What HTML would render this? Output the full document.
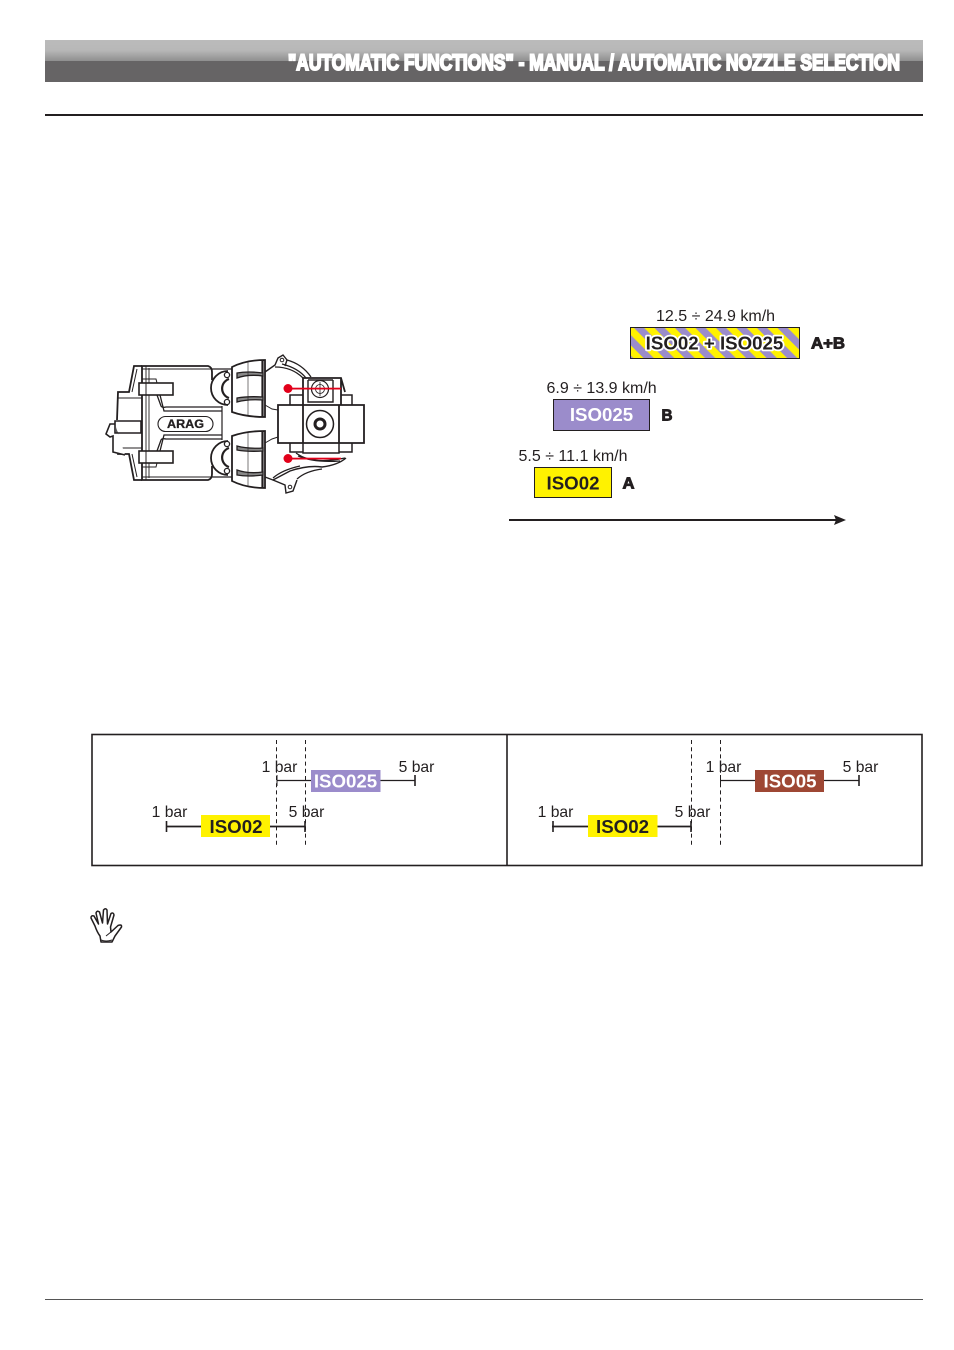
<!DOCTYPE html>
<html>
<head>
<meta charset="utf-8">
<style>
html,body{margin:0;padding:0;background:#fff;}
svg{display:block;}
text{font-family:"Liberation Sans",sans-serif;}
</style>
</head>
<body>
<svg width="954" height="1350" viewBox="0 0 954 1350" xmlns="http://www.w3.org/2000/svg">
<defs>
<linearGradient id="hdr" x1="0" y1="0" x2="0" y2="1">
<stop offset="0" stop-color="#bbbbbb"/>
<stop offset="0.24" stop-color="#b8b8b8"/>
<stop offset="0.5" stop-color="#8f8f8f"/>
<stop offset="0.5" stop-color="#666465"/>
<stop offset="1" stop-color="#666465"/>
</linearGradient>
<pattern id="st" width="14.5" height="14.5" patternUnits="userSpaceOnUse" patternTransform="translate(633 327) rotate(-45)">
<rect width="14.5" height="14.5" fill="#fff200"/>
<rect width="7.25" height="14.5" fill="#9b8ccb"/>
</pattern>
<g id="nut" fill="none" stroke="#231f20">
<path d="M232 367Q246 360 265 360V417Q246 417 232 412Z" fill="#fff" stroke-width="1.8"/>
<path d="M262.500 360V417" stroke-width="2.200"/>
<path d="M237 373Q248 371 263 373V376Q248 374 237 378Z" stroke-width="1.300" fill="#888"/>
<path d="M237 398Q248 396 263 397V400Q248 399 237 402Z" stroke-width="1.300" fill="#888"/>
<path d="M248 361V416" stroke-width=".6"/>
</g>
<g id="half" fill="none" stroke="#231f20">
<path d="M142 423V366H208Q212 367 212 372V380" stroke-width="1.800"/>
<path d="M212 369H232" stroke-width="1.200"/>
<path d="M142 366H134L129 392H118L117 420" stroke-width="1.800"/>
<path d="M137 369L132 392M118 398H142" stroke-width="1"/>
<path d="M146 366V423M149 368V423M142 369H212" stroke-width=".9"/>
<rect x="139" y="383" width="34" height="12" fill="#fff" stroke-width="1.600"/>
<path d="M142 379H156L157 383M146 383V395" stroke-width="1"/>
<path d="M157 395L161 406Q162 408 166 407H222M160 395L164 411H222" stroke-width="1.300"/>
<path d="M222 406V423" stroke-width="1.200"/>
<path d="M228 371A17 17 0 0 0 228 405" stroke-width="1.800"/>
<path d="M229 379A10 10 0 0 0 229 398" stroke-width="2.200"/>
<circle cx="227" cy="375" r="2.600" fill="#fff" stroke-width="1.300"/>
<circle cx="227" cy="402" r="2.600" fill="#fff" stroke-width="1.300"/>
</g>
</defs>

<rect x="0" y="0" width="954" height="1350" fill="#fff"/>

<!-- header -->
<rect x="45" y="40" width="878" height="42" fill="url(#hdr)"/>
<text x="288" y="70" font-size="22.500" font-weight="bold" fill="#fff" stroke="#fff" stroke-width="2" textLength="612" lengthAdjust="spacingAndGlyphs">"AUTOMATIC FUNCTIONS" - MANUAL / AUTOMATIC NOZZLE SELECTION</text>
<rect x="45" y="114" width="878" height="2" fill="#231f20"/>
<rect x="45" y="1299" width="878" height="1" fill="#555"/>

<!-- device -->
<use href="#half"/>
<use href="#half" transform="translate(0 846) scale(1 -1)"/>
<use href="#nut"/>
<use href="#nut" transform="translate(0 848) scale(1 -1)"/>
<g fill="none" stroke="#231f20">
<path d="M115 421H141V433H115ZM115 424H110L106 434L110 437L113 436V452L125 455" stroke-width="1.600" fill="#fff"/>
<!-- upper right arm -->
<path d="M265 372L275 365L278 358L283 355L287 360L285 366" stroke-width="1.400"/>
<path d="M287 360Q302 364 311 377M275 367Q292 367 303 378M282 364Q298 368 306 378" stroke-width="1.300"/>
<circle cx="282" cy="360" r="1.800" stroke-width="1"/>
<path d="M265 405L272 409L278 410M265 443L272 439L278 437" stroke-width="1"/>
<!-- upper column + bolt -->
<path d="M303 405V378H341L345 392M341 378V405" stroke-width="1.800"/>
<path d="M308 380V402H333V380M308 380H333" stroke-width="1.400"/>
<circle cx="320" cy="389" r="8.500" stroke-width="1.200"/>
<circle cx="320" cy="389" r="4.500" stroke-width=".8"/>
<path d="M320 382V396M314 389H326" stroke-width=".8"/>
<path d="M290 405V395H303M341 395H352V405" stroke-width="1.500"/>
<!-- block -->
<path d="M278 405H364V443H278Z" fill="#fff" stroke-width="1.800"/>
<path d="M303 405V443M339 405V443" stroke-width="1.800"/>
<circle cx="320" cy="424" r="13.500" stroke-width="1.500" fill="#fff"/>
<circle cx="320" cy="424" r="5" stroke-width="3"/>
<!-- lower column -->
<path d="M290 443V452H303M303 443V453H339V443M339 452H352V443" stroke-width="1.500"/>
<path d="M296 453Q312 465 345 458M298 456Q314 463 340 461" stroke-width="1.200"/>
<!-- lower arm -->
<path d="M265 477L273 480L290 471Q308 465 322 467Q338 465 346 458" stroke-width="1.400"/>
<path d="M273 478Q282 470 300 466M297 479Q306 471 322 469" stroke-width="1.200"/>
<path d="M273 480L285 485L286 493L293 491L297 480" stroke-width="1.400"/>
<circle cx="290" cy="487" r="1.800" stroke-width="1"/>
<rect x="158" y="416.500" width="55" height="15" rx="7.500" stroke-width="1.100" fill="#fff"/>
</g>
<text x="185.500" y="428" font-size="12" font-weight="bold" fill="#231f20" stroke="#231f20" stroke-width=".3" text-anchor="middle" textLength="37" lengthAdjust="spacingAndGlyphs">ARAG</text>
<circle cx="288" cy="388.500" r="4.500" fill="#e2001a"/>
<rect x="288" y="387.700" width="53" height="1.800" fill="#e2001a"/>
<circle cx="288" cy="458.500" r="4.500" fill="#e2001a"/>
<rect x="288" y="457.700" width="53" height="1.800" fill="#e2001a"/>

<!-- speed chart -->
<g font-size="16" fill="#231f20">
<text x="656" y="321">12.5 ÷ 24.9 km/h</text>
<text x="546.500" y="393">6.9 ÷ 13.9 km/h</text>
<text x="518.500" y="461">5.5 ÷ 11.1 km/h</text>
</g>
<rect x="630.500" y="327.500" width="169" height="31" fill="url(#st)" stroke="#231f20" stroke-width="1"/>
<text x="714.500" y="349.500" font-size="18.700" font-weight="bold" text-anchor="middle" fill="#231f20" stroke="#fff" stroke-width="3.500" paint-order="stroke" stroke-linejoin="round">ISO02 + ISO025</text>
<rect x="553.500" y="399.500" width="96" height="31" fill="#9b8ccb" stroke="#231f20" stroke-width="1"/>
<text x="601.500" y="421" font-size="18.700" font-weight="bold" text-anchor="middle" fill="#fff">ISO025</text>
<rect x="534.500" y="467.500" width="77" height="30" fill="#fff200" stroke="#231f20" stroke-width="1"/>
<text x="573" y="489.500" font-size="18.700" font-weight="bold" text-anchor="middle" fill="#231f20">ISO02</text>
<g font-size="15.500" font-weight="bold" fill="#231f20" stroke="#231f20" stroke-width=".9">
<text x="811" y="348.500" textLength="34" lengthAdjust="spacingAndGlyphs">A+B</text>
<text x="661.500" y="420.500" textLength="11" lengthAdjust="spacingAndGlyphs">B</text>
<text x="622.500" y="488.500" textLength="12" lengthAdjust="spacingAndGlyphs">A</text>
</g>
<rect x="509" y="519" width="328" height="2" fill="#231f20"/>
<path d="M834 515L846 520L834 525L836 520Z" fill="#231f20"/>

<!-- pressure table -->
<rect x="92" y="734.500" width="830" height="131" fill="none" stroke="#231f20" stroke-width="1.600"/>
<path d="M507 734V866" stroke="#231f20" stroke-width="1.600"/>
<g stroke="#231f20" stroke-width="1" stroke-dasharray="4 3.200" fill="none">
<path d="M276.500 740V847M305.500 740V847M691.500 740V847M720.500 740V847"/>
</g>
<g stroke="#231f20" fill="none">
<path d="M277 780.500H311M380 780.500H415" stroke-width="1.200"/>
<path d="M415 775V786" stroke-width="1.600"/>
<path d="M277 775V786" stroke-width="1"/>
<path d="M166 826.500H201M270 826.500H305" stroke-width="1.800"/>
<path d="M166.500 821V832M305 821V832" stroke-width="1.600"/>
<path d="M721 780.500H755M824 780.500H859" stroke-width="1.200"/>
<path d="M859 775V786" stroke-width="1.600"/>
<path d="M720.500 775V786" stroke-width="1"/>
<path d="M552 826.500H588M657 826.500H691" stroke-width="1.800"/>
<path d="M553 821V832M691 821V832" stroke-width="1.600"/>
</g>
<rect x="311" y="770" width="69.500" height="22" fill="#9b8ccb"/>
<rect x="201" y="815" width="69" height="22" fill="#fff200"/>
<rect x="755" y="770" width="69" height="22" fill="#9e4734"/>
<rect x="588" y="815" width="69.500" height="22" fill="#fff200"/>
<g font-size="18.700" font-weight="bold" text-anchor="middle">
<text x="345.500" y="787.500" fill="#fff">ISO025</text>
<text x="236" y="833" fill="#231f20">ISO02</text>
<text x="790" y="787.500" fill="#fff">ISO05</text>
<text x="622.500" y="833" fill="#231f20">ISO02</text>
</g>
<g font-size="15.700" fill="#231f20" text-anchor="middle">
<text x="279.500" y="772">1 bar</text>
<text x="416.500" y="772">5 bar</text>
<text x="169.500" y="817">1 bar</text>
<text x="306.500" y="817">5 bar</text>
<text x="723.500" y="772">1 bar</text>
<text x="860.500" y="772">5 bar</text>
<text x="555.500" y="817">1 bar</text>
<text x="692.500" y="817">5 bar</text>
</g>

<!-- hand -->
<path d="M101 942L100 936Q97 932 95 926L91 918Q91 915 94 916L98.500 924L96 913Q97 910 99.500 912L102.500 923L103.500 910Q105.500 907.500 107 910L107.500 924L111 913.500Q113.500 912 114 915L110.500 927L111 932L118 925.500Q122 924 121.500 927L115 936L112 942Z" fill="#fff" stroke="#231f20" stroke-width="1.500" stroke-linejoin="round"/>
<path d="M101 940Q106 942 112 940M106 936L111 932" fill="none" stroke="#231f20" stroke-width="1"/>
</svg>
</body>
</html>
